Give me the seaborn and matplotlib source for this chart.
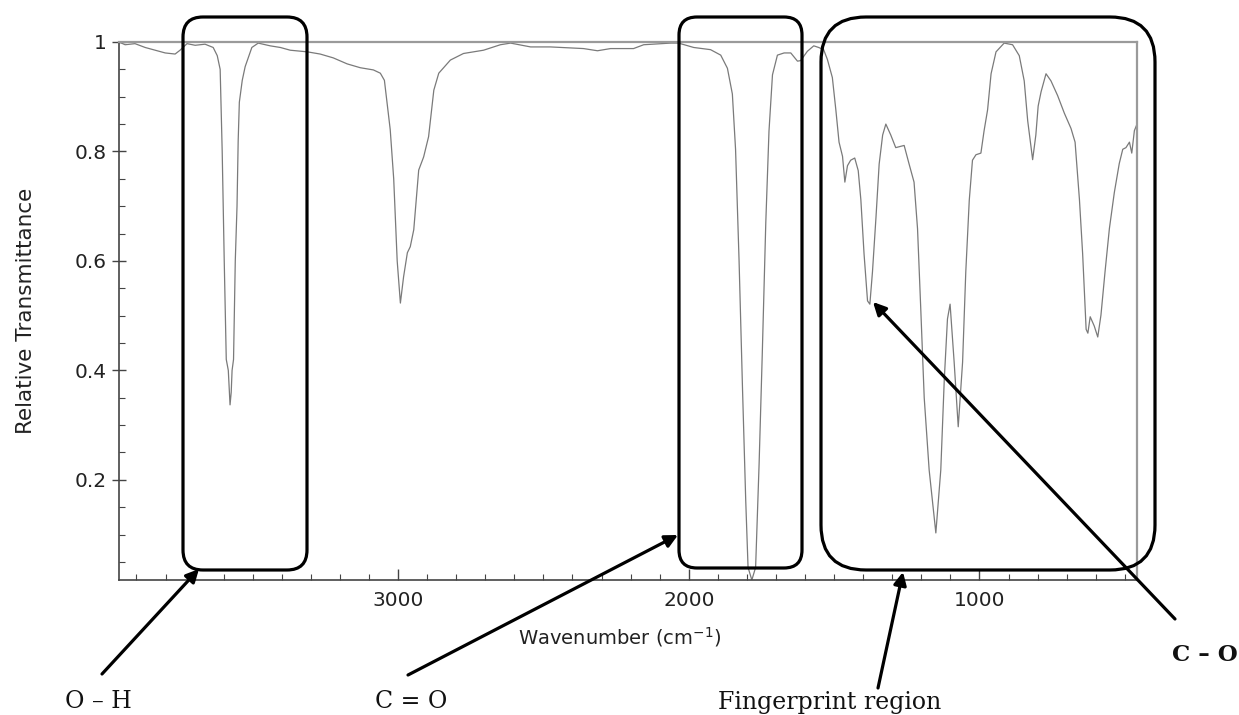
import numpy as np
import pandas as pd
import matplotlib
matplotlib.use("Agg")
import matplotlib.pyplot as plt
from matplotlib.patches import FancyBboxPatch
from matplotlib.ticker import MultipleLocator, FixedLocator, FixedFormatter
import seaborn as sns

# ---------------- data ----------------
wavenumber = [3960, 3939, 3905, 3870, 3836, 3801, 3767, 3750, 3726, 3698,
              3664, 3636, 3622, 3612, 3605, 3598, 3591, 3584, 3581, 3578,
              3574, 3571, 3566, 3560, 3554, 3550, 3546, 3536, 3526, 3503,
              3481, 3440, 3405, 3371, 3312, 3268, 3223, 3175, 3130, 3085,
              3061, 3047, 3038, 3027, 3015, 3003, 2992, 2981, 2968, 2958,
              2946, 2929, 2912, 2895, 2877, 2860, 2820, 2775, 2706, 2648,
              2613, 2544, 2476, 2362, 2314, 2269, 2190, 2155, 2062, 2035,
              1983, 1925, 1890, 1867, 1850, 1839, 1827, 1815, 1804, 1796,
              1783, 1770, 1758, 1747, 1735, 1724, 1712, 1695, 1672, 1649,
              1626, 1615, 1592, 1570, 1553, 1536, 1523, 1506, 1494, 1483,
              1471, 1463, 1454, 1443, 1429, 1417, 1408, 1397, 1385, 1377,
              1368, 1356, 1345, 1333, 1322, 1305, 1288, 1259, 1242, 1225,
              1213, 1202, 1190, 1173, 1150, 1133, 1121, 1110, 1101, 1087,
              1073, 1058, 1047, 1035, 1024, 1012, 995, 984, 972, 960,
              943, 915, 886, 863, 846, 834, 817, 806, 798, 788,
              771, 754, 731, 708, 685, 671, 656, 645, 633, 627,
              619, 605, 593, 582, 568, 553, 536, 519, 507, 496,
              484, 476, 467, 458]

transmittance = [1.0, 0.995, 0.997, 0.99, 0.985, 0.98, 0.978, 0.985, 0.997, 0.994,
                 0.996, 0.99, 0.975, 0.95, 0.80, 0.60, 0.42, 0.40, 0.37, 0.337,
                 0.36, 0.40, 0.42, 0.60, 0.70, 0.82, 0.89, 0.93, 0.955, 0.99,
                 0.998, 0.993, 0.99, 0.985, 0.982, 0.978, 0.971, 0.96, 0.953, 0.949,
                 0.943, 0.93, 0.89, 0.84, 0.75, 0.60, 0.523, 0.571, 0.615, 0.626,
                 0.657, 0.766, 0.79, 0.827, 0.912, 0.943, 0.967, 0.979, 0.985, 0.995,
                 0.998, 0.991, 0.991, 0.988, 0.984, 0.988, 0.988, 0.995, 0.998, 0.998,
                 0.99, 0.986, 0.976, 0.952, 0.905, 0.804, 0.602, 0.365, 0.162, 0.04,
                 0.017, 0.04, 0.229, 0.432, 0.67, 0.837, 0.94, 0.976, 0.98, 0.98,
                 0.965, 0.966, 0.983, 0.993, 0.99, 0.986, 0.968, 0.935, 0.876, 0.817,
                 0.791, 0.744, 0.774, 0.784, 0.788, 0.765, 0.712, 0.613, 0.527, 0.521,
                 0.58, 0.679, 0.777, 0.83, 0.85, 0.83, 0.807, 0.811, 0.777, 0.744,
                 0.659, 0.514, 0.35, 0.218, 0.103, 0.218, 0.383, 0.494, 0.521, 0.415,
                 0.297, 0.415, 0.58, 0.711, 0.784, 0.794, 0.797, 0.838, 0.876, 0.942,
                 0.982, 0.998, 0.995, 0.975, 0.929, 0.856, 0.785, 0.83, 0.883, 0.909,
                 0.942, 0.929, 0.902, 0.87, 0.842, 0.817, 0.712, 0.613, 0.475, 0.468,
                 0.498, 0.481, 0.461, 0.501, 0.58, 0.659, 0.725, 0.778, 0.804, 0.807,
                 0.817, 0.797, 0.838, 0.85]

x_major_ticks = [3000, 2000, 1000]
x_tick_labels = ["3000", "2000", "1000"]
y_major_ticks = [0.2, 0.4, 0.6, 0.8, 1.0]
y_tick_labels = ["0.2", "0.4", "0.6", "0.8", "1"]

annotation_labels = ["O \u2013 H", "C = O", "Fingerprint region", "C \u2013 O"]

# ---------------- figure ----------------
sns.set_theme(style="ticks")
plt.rcParams["font.family"] = ["DejaVu Sans"]

W, H = 1239, 715
fig = plt.figure(figsize=(W / 100, H / 100), dpi=100)
fig.patch.set_facecolor("white")

L, R, T, B = 119, 1137, 42, 580
ax = fig.add_axes([L / W, 1 - B / H, (R - L) / W, (B - T) / H])

df = pd.DataFrame({"wn": wavenumber, "T": transmittance})
sns.lineplot(data=df, x="wn", y="T", ax=ax, color="#7a7a7a", linewidth=0.9,
             estimator=None, sort=True)

ax.set_xlim(3960, 458)
ax.set_ylim(0.017, 1.0)

ax.xaxis.set_major_locator(FixedLocator(x_major_ticks))
ax.xaxis.set_major_formatter(FixedFormatter(x_tick_labels))
ax.xaxis.set_minor_locator(MultipleLocator(100))
ax.yaxis.set_major_locator(FixedLocator(y_major_ticks))
ax.yaxis.set_major_formatter(FixedFormatter(y_tick_labels))
ax.yaxis.set_minor_locator(MultipleLocator(0.05))

ax.tick_params(axis="x", which="major", direction="in", length=8, width=1.0,
               color="#444444", labelsize=14.5, labelcolor="#222222", pad=8)
ax.tick_params(axis="x", which="minor", direction="in", length=4, width=0.8,
               color="#444444")
ax.tick_params(axis="y", which="major", direction="inout", length=10, width=1.0,
               color="#444444", labelsize=14.5, labelcolor="#222222", pad=4)
ax.tick_params(axis="y", which="minor", direction="in", length=4, width=0.8,
               color="#444444")

for side in ["left", "bottom"]:
    ax.spines[side].set_color("#444444")
    ax.spines[side].set_linewidth(1.2)
for side in ["top", "right"]:
    ax.spines[side].set_color("#9a9a9a")
    ax.spines[side].set_linewidth(1.6)

ax.set_xlabel("Wavenumber (cm$^{-1}$)", fontsize=14, color="#222222")
ax.set_ylabel("Relative Transmittance", fontsize=15.5, color="#222222")
ax.xaxis.set_label_coords((620 - L) / (R - L), (B - 625) / (B - T))
ax.yaxis.set_label_coords((36 - L) / (R - L), (B - 311) / (B - T))

# ---------------- overlay annotations (pixel space) ----------------
ov = fig.add_axes([0, 0, 1, 1], facecolor="none")
ov.set_xlim(0, W)
ov.set_ylim(H, 0)
ov.axis("off")

boxes = [(183, 17, 307, 570, 20), (679, 17, 802, 568, 18), (821, 17, 1155, 570, 45)]
for x0, y0, x1, y1, r in boxes:
    ov.add_patch(FancyBboxPatch((x0, y0), x1 - x0, y1 - y0,
                                boxstyle=f"round,pad=0,rounding_size={r}",
                                fill=False, edgecolor="black", linewidth=2.3,
                                clip_on=False))

arrows = [((102, 674), (199, 569)), ((408, 675), (678, 535)),
          ((878, 688), (903, 572)), ((1175, 619), (873, 302))]
for tail, tip in arrows:
    ov.annotate("", xy=tip, xytext=tail,
                arrowprops=dict(arrowstyle="-|>", color="black", lw=2.3,
                                mutation_scale=19, shrinkA=0, shrinkB=0))

serif = ["DejaVu Serif"]
ov.text(98, 701, annotation_labels[0], ha="center", va="center", fontsize=17,
        family=serif, color="#111111")
ov.text(411, 701, annotation_labels[1], ha="center", va="center", fontsize=17,
        family=serif, color="#111111")
ov.text(830, 703, annotation_labels[2], ha="center", va="center", fontsize=17,
        family=serif, color="#111111")
ov.text(1205, 655, annotation_labels[3], ha="center", va="center", fontsize=16.5,
        family=serif, fontweight="bold", color="#111111")

fig.savefig("out.png", dpi=100, facecolor="white")
